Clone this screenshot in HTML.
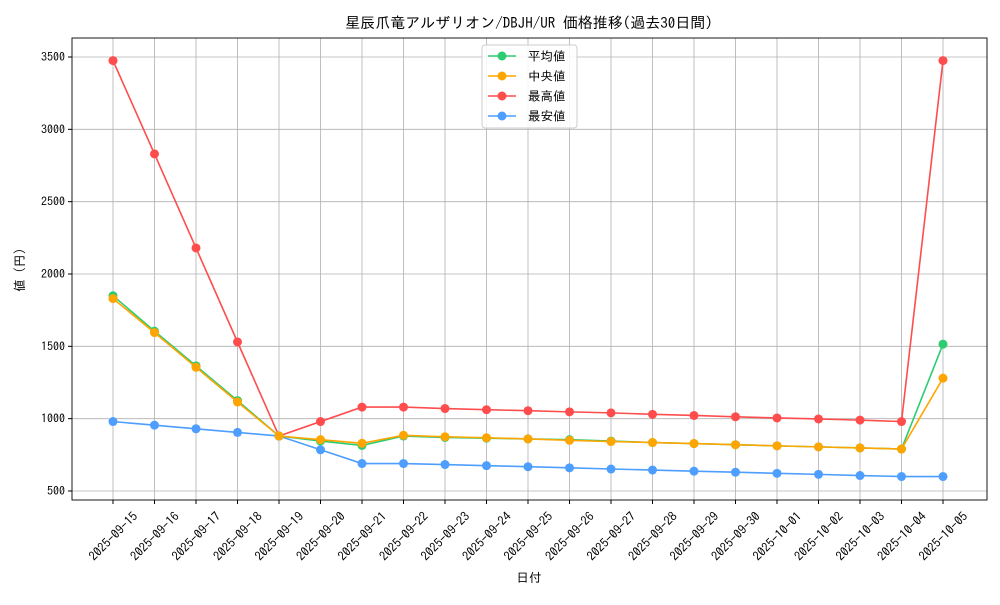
<!DOCTYPE html>
<html><head><meta charset="utf-8"><style>
body{margin:0;background:#fff;}
svg text{font-family:"IPAGothic","Noto Sans CJK JP",sans-serif;fill:#000;}
</style></head><body>
<svg id="s" width="1000" height="600" xmlns="http://www.w3.org/2000/svg"></svg>
<script>
const s=document.getElementById('s');
let h='';
const L=72,R=987,T=38,B=500;
const X=i=>113+i*41.5;
const Y=v=>491-(v-500)*0.144667;
h+=`<rect x="0" y="0" width="1000" height="600" fill="#fff"/>`;
const dates=[];
for(let d=15;d<=30;d++)dates.push('2025-09-'+d);
for(let d=1;d<=5;d++)dates.push('2025-10-0'+d);
dates.forEach((d,i)=>{h+=`<line x1="${X(i)}" y1="${T}" x2="${X(i)}" y2="${B}" stroke="#b0b0b0" stroke-width="0.8"/>`;});
for(let v=500;v<=3500;v+=500){h+=`<line x1="${L}" y1="${Y(v)}" x2="${R}" y2="${Y(v)}" stroke="#b0b0b0" stroke-width="0.8"/>`;
h+=`<line x1="${L-4}" y1="${Y(v)}" x2="${L}" y2="${Y(v)}" stroke="#000"/>`;
h+=`<text x="${L-7}" y="${Y(v)+4}" font-size="12" text-anchor="end">${v}</text>`;}
dates.forEach((d,i)=>{h+=`<line x1="${X(i)}" y1="${B}" x2="${X(i)}" y2="${B+4}" stroke="#000"/>`;
h+=`<text transform="translate(${X(i)+1},${B+37}) rotate(-45)" font-size="12.5" text-anchor="middle" dominant-baseline="middle">${d}</text>`;});
const series=[
["最高値","#ff4d4d",[3475,2830,2180,1530,880,980,1080,1080,1070,1062,1055,1047,1040,1030,1022,1013,1005,998,990,980,3475]],
["最安値","#4d9eff",[980,955,930,905,880,785,690,690,683,675,668,660,652,645,637,630,622,615,607,600,600]],
["平均値","#2ecc71",[1850,1605,1365,1125,880,845,815,880,870,865,860,855,845,835,828,820,812,805,798,790,1515]],
["中央値","#ffa500",[1830,1595,1355,1115,880,855,830,885,875,868,860,850,842,835,828,820,812,805,798,790,1280]],
];
series.forEach(([n,c,d])=>{h+=`<polyline fill="none" stroke="${c}" stroke-width="1.6" points="${d.map((v,i)=>X(i)+','+Y(v)).join(' ')}"/>`;
d.forEach((v,i)=>{h+=`<circle cx="${X(i)}" cy="${Y(v)}" r="4.5" fill="${c}"/>`;});});
h+=`<rect x="${L}" y="${T}" width="${R-L}" height="${B-T}" fill="none" stroke="#000" stroke-width="0.9"/>`;
h+=`<rect x="482" y="45" width="95" height="83" rx="3" fill="#fff" fill-opacity="0.85" stroke="#ccc"/>`;
[["平均値","#2ecc71"],["中央値","#ffa500"],["最高値","#ff4d4d"],["最安値","#4d9eff"]].forEach(([n,c],k)=>{const y=56+k*20;
h+=`<line x1="488" y1="${y}" x2="516" y2="${y}" stroke="${c}" stroke-width="1.6"/><circle cx="502" cy="${y}" r="4.5" fill="${c}"/>`;
h+=`<text x="528" y="${y+4.5}" font-size="12.5">${n}</text>`;});
h+=`<text x="529" y="28" font-size="15" text-anchor="middle">星辰爪竜アルザリオン/DBJH/UR 価格推移(過去30日間)</text>`;
h+=`<text x="529" y="582" font-size="12.5" text-anchor="middle">日付</text>`;
h+=`<text transform="translate(24,270) rotate(-90)" font-size="12.5" text-anchor="middle">値 (円)</text>`;
s.innerHTML=h;
</script>
</body></html>
